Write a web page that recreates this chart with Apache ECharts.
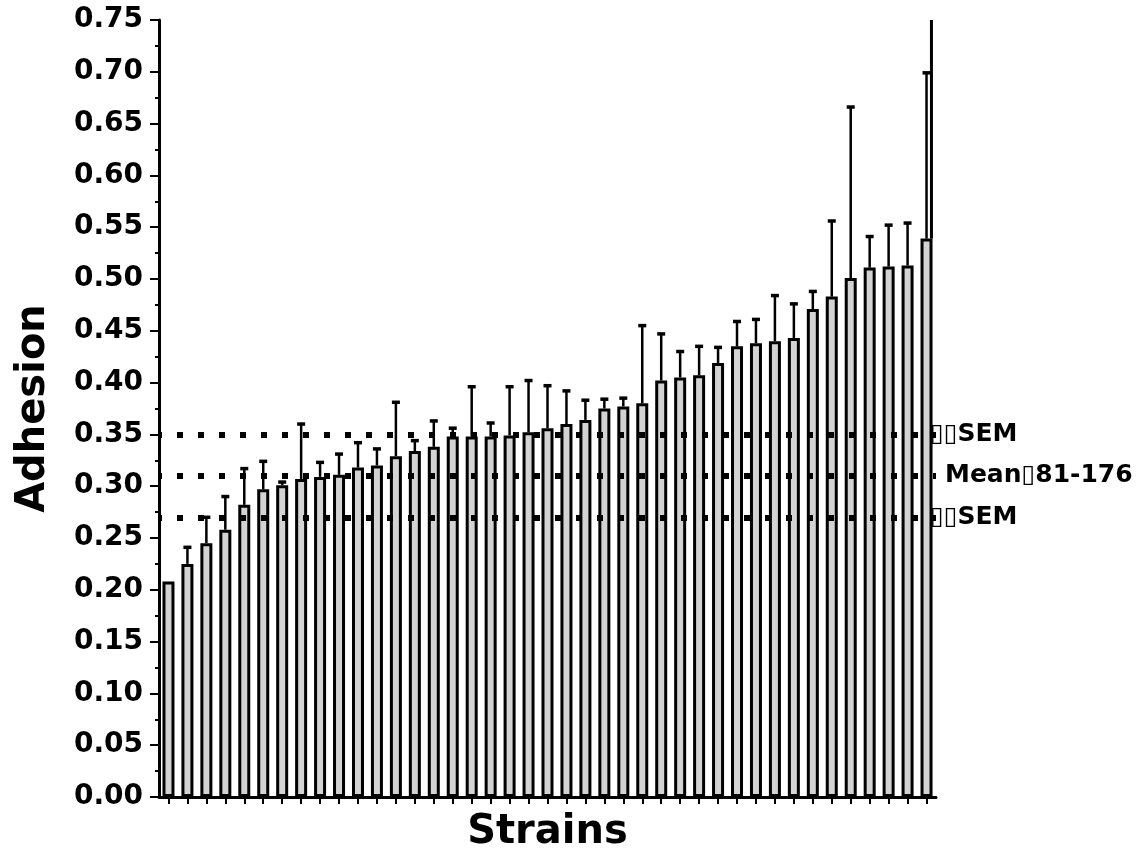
<!DOCTYPE html>
<html>
<head>
<meta charset="utf-8">
<script src="https://cdn.jsdelivr.net/npm/echarts@6/dist/echarts.min.js"></script>
<style>
html,body{margin:0;padding:0;background:#fff;}
#chart{width:1142px;height:858px;}
</style>
</head>
<body>
<div id="chart"></div>
<script>
// ---- data ----
const strains = Array.from({length: 41}, (_, i) => 'Strain ' + (i + 1));
const adhesion = [0.208,0.225,0.245,0.258,0.282,0.297,0.301,0.307,0.309,0.311,
                  0.318,0.320,0.329,0.334,0.338,0.348,0.348,0.348,0.349,0.352,
                  0.356,0.360,0.364,0.375,0.377,0.380,0.402,0.405,0.407,0.419,
                  0.435,0.438,0.440,0.443,0.471,0.483,0.501,0.511,0.512,0.513,0.539];
const errorUpper = [0.208,0.241,0.270,0.290,0.317,0.324,0.304,0.360,0.323,0.331,
                    0.342,0.336,0.381,0.344,0.363,0.356,0.396,0.361,0.396,0.402,
                    0.397,0.392,0.383,0.384,0.385,0.455,0.447,0.430,0.435,0.434,
                    0.459,0.461,0.484,0.476,0.488,0.556,0.666,0.541,0.552,0.554,0.699];
// extra vertical line on last strain (runs up to the top of the axis)
const extraLine = [[40, 0.539, 0.75]];
const refValues = [0.35, 0.31, 0.27];
const refLabels = ['\u25AF\u25AFSEM', 'Mean\u25AF81-176', '\u25AF\u25AFSEM'];
const yTicks = ['0.00','0.05','0.10','0.15','0.20','0.25','0.30','0.35','0.40','0.45','0.50','0.55','0.60','0.65','0.70','0.75'];

const FONT = 'DejaVu Sans';
const chart = echarts.init(document.getElementById('chart'), null, {renderer: 'canvas'});

const errData = adhesion.map((v, i) => [i, v, errorUpper[i]]);

chart.setOption({
  animation: false,
  backgroundColor: '#ffffff',
  grid: {left: 159, right: 206, top: 20, bottom: 61, containLabel: false, outerBoundsMode: 'none'},
  xAxis: {
    type: 'category',
    data: strains,
    name: 'Strains',
    nameLocation: 'middle',
    nameGap: 16,
    nameTextStyle: {fontFamily: FONT, fontWeight: 'bold', fontSize: 40, color: '#000'},
    axisLine: {lineStyle: {color: '#000', width: 3}},
    axisTick: {show: true, interval: 0, alignWithLabel: true, length: 7, lineStyle: {color: '#000', width: 2}},
    axisLabel: {show: false, interval: 0},
    splitLine: {show: false}
  },
  yAxis: {
    type: 'value',
    min: 0, max: 0.75, interval: 0.05,
    name: 'Adhesion',
    nameLocation: 'middle',
    nameGap: 105,
    nameRotate: 90,
    nameTextStyle: {fontFamily: FONT, fontWeight: 'bold', fontSize: 40, color: '#000'},
    axisLine: {show: true, lineStyle: {color: '#000', width: 3}},
    axisTick: {show: true, length: 9, lineStyle: {color: '#000', width: 2}},
    minorTick: {show: true, splitNumber: 2, length: 4, lineStyle: {color: '#000', width: 2}},
    axisLabel: {
      fontFamily: FONT, fontWeight: 'bold', fontSize: 28, color: '#000', margin: 16,
      formatter: (v) => yTicks[Math.round(v / 0.05)]
    },
    splitLine: {show: false}
  },
  series: [
    {
      type: 'bar',
      data: adhesion,
      barWidth: 12,
      itemStyle: {color: '#d3d3d3', borderColor: '#000', borderWidth: 3},
      z: 2,
      markLine: {
        silent: true,
        symbol: 'none',
        animation: false,
        lineStyle: {color: '#000', width: 6, type: [6, 15], dashOffset: -18},
        label: {show: true, position: 'end', fontFamily: FONT, fontWeight: 'bold', fontSize: 25, color: '#000'},
        data: refValues.map((v, i) => ({
          yAxis: v,
          label: {formatter: refLabels[i], distance: i === 1 ? 9 : -6}
        }))
      }
    },
    {
      type: 'custom',
      data: errData,
      z: 3,
      renderItem: function (params, api) {
        const x = api.coord([api.value(0), 0])[0];
        const yb = api.coord([api.value(0), api.value(1)])[1];
        const yt = api.coord([api.value(0), api.value(2)])[1];
        if (Math.abs(yb - yt) < 1) return null;
        return {
          type: 'group',
          children: [
            {type: 'line', shape: {x1: x, y1: yb, x2: x, y2: yt}, style: {stroke: '#000', lineWidth: 2.5}},
            {type: 'line', shape: {x1: x - 4, y1: yt, x2: x + 4, y2: yt}, style: {stroke: '#000', lineWidth: 3.5}}
          ]
        };
      }
    },
    {
      type: 'custom',
      data: extraLine,
      z: 3,
      renderItem: function (params, api) {
        const c = api.coord([api.value(0), 0])[0];
        const bw = api.size([1, 0])[0];
        const x = c + 0.26 * bw;
        const yb = api.coord([api.value(0), api.value(1)])[1];
        const yt = api.coord([api.value(0), api.value(2)])[1];
        return {type: 'line', shape: {x1: x, y1: yb, x2: x, y2: yt}, style: {stroke: '#000', lineWidth: 3}};
      }
    }
  ]
});
</script>
</body>
</html>
